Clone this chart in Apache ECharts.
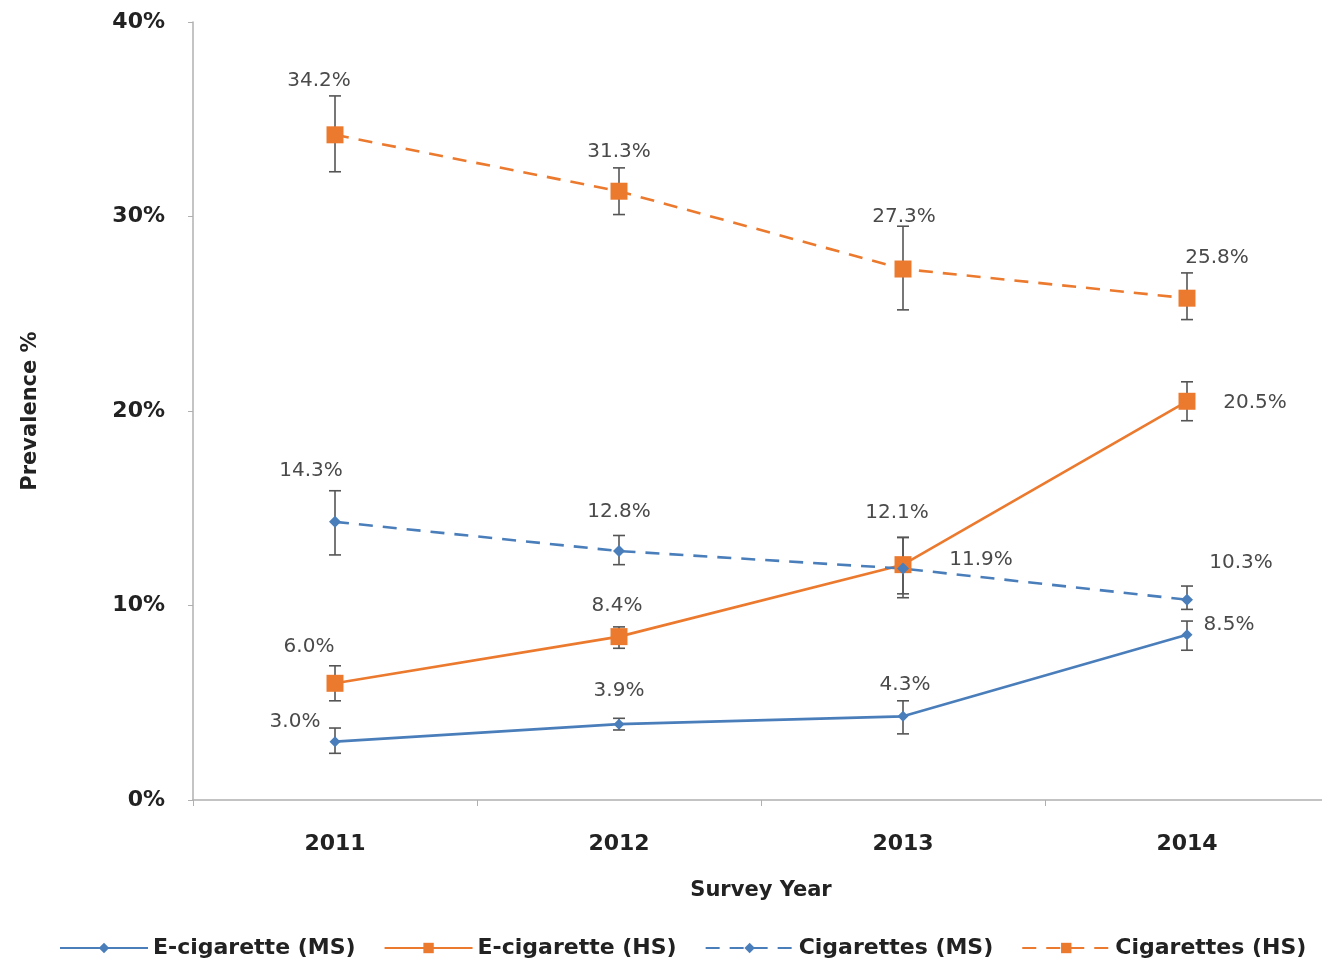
<!DOCTYPE html>
<html>
<head>
<meta charset="utf-8">
<title>Tobacco product use prevalence, 2011–2014</title>
<script src="https://cdn.jsdelivr.net/npm/echarts@6/dist/echarts.min.js"></script>
<style>
  html, body { margin: 0; padding: 0; background: #fff; overflow: hidden; }
  /* the plot area runs a little past the right edge of the page */
  #chart { width: 1330px; height: 972px; }
</style>
</head>
<body>
<div id="chart"></div>
<script>
// Survey years
const years = ['2011', '2012', '2013', '2014'];
const yTicks = [0, 10, 20, 30, 40];

// Prevalence estimates (%)
const ecigMS = [3.0, 3.9, 4.3, 8.5];
const ecigHS = [6.0, 8.4, 12.1, 20.5];
const cigMS = [14.3, 12.8, 11.9, 10.3];
const cigHS = [34.2, 31.3, 27.3, 25.8];

// 95% confidence limits (%)
const ecigMSLow = [2.4, 3.6, 3.4, 7.7];
const ecigMSHigh = [3.7, 4.2, 5.1, 9.2];
const ecigHSLow = [5.1, 7.8, 10.4, 19.5];
const ecigHSHigh = [6.9, 8.9, 13.5, 21.5];
const cigMSLow = [12.6, 12.1, 10.6, 9.8];
const cigMSHigh = [15.9, 13.6, 13.5, 11.0];
const cigHSLow = [32.3, 30.1, 25.2, 24.7];
const cigHSHigh = [36.2, 32.5, 29.5, 27.1];

const BLUE = '#4A7EBB';
const ORANGE = '#EC7A2E';
const FONT = '"DejaVu Sans", "Noto Sans", sans-serif';

// label placement (offset of the label centre from its point, px)
const labelShift = {
  ecigMS: [[-40, -20], [0, -33], [2, -32], [42, -10]],
  ecigHS: [[-26, -37], [-2, -31], [-6, -52], [68, 2]],
  cigMS: [[-24, -51], [0, -39], [78, -9], [54, -37]],
  cigHS: [[-16, -54], [0, -39], [1, -52], [30, -40]]
};

function pointData(values, shifts) {
  return values.map((v, i) => ({
    value: v,
    label: {
      show: true,
      position: 'inside',
      offset: shifts[i],
      formatter: v.toFixed(1) + '%',
      color: '#4a4a4a',
      fontFamily: FONT,
      fontSize: 20
    }
  }));
}

function lineSeries(name, values, shifts, color, symbol, size, dashed) {
  return {
    name: name,
    type: 'line',
    data: pointData(values, shifts),
    symbol: symbol,
    symbolSize: size,
    showAllSymbol: true,
    z: 3,
    itemStyle: { color: color },
    lineStyle: {
      color: color,
      width: 2.6,
      type: dashed ? [14, 10] : 'solid'
    },
    emphasis: { disabled: true },
    animation: false
  };
}

function errorSeries(low, high) {
  return {
    type: 'custom',
    z: 2,
    silent: true,
    animation: false,
    data: low.map((lo, i) => [i, lo, high[i]]),
    renderItem: function (params, api) {
      const top = api.coord([api.value(0), api.value(2)]);
      const bot = api.coord([api.value(0), api.value(1)]);
      const cap = 6;
      const style = { stroke: '#555', lineWidth: 1.6 };
      return {
        type: 'group',
        children: [
          { type: 'line', shape: { x1: top[0], y1: top[1], x2: bot[0], y2: bot[1] }, style: style },
          { type: 'line', shape: { x1: top[0] - cap, y1: top[1], x2: top[0] + cap, y2: top[1] }, style: style },
          { type: 'line', shape: { x1: bot[0] - cap, y1: bot[1], x2: bot[0] + cap, y2: bot[1] }, style: style }
        ]
      };
    }
  };
}

const chart = echarts.init(document.getElementById('chart'), null, { renderer: 'canvas' });

chart.setOption({
  backgroundColor: '#fff',
  animation: false,
  grid: { left: 193, top: 22, width: 1136, bottom: 172 },
  legend: {
    bottom: 8,
    left: 54,
    itemWidth: 88,
    itemHeight: 13,
    itemGap: 28,
    textStyle: { fontFamily: FONT, fontSize: 22, fontWeight: 'bold', color: '#222' },
    data: ['E-cigarette (MS)', 'E-cigarette (HS)', 'Cigarettes (MS)', 'Cigarettes (HS)']
  },
  xAxis: {
    type: 'category',
    data: years,
    boundaryGap: true,
    name: 'Survey Year',
    nameLocation: 'middle',
    nameGap: 80,
    nameTextStyle: { fontFamily: FONT, fontSize: 21, fontWeight: 'bold', color: '#222' },
    axisLine: { lineStyle: { color: '#b0b0b0', width: 1.5 } },
    axisTick: { show: true, length: 6, lineStyle: { color: '#b0b0b0' } },
    axisLabel: { margin: 33, fontFamily: FONT, fontSize: 22, fontWeight: 'bold', color: '#222' },
    splitLine: { show: false }
  },
  yAxis: {
    type: 'value',
    min: yTicks[0],
    max: yTicks[yTicks.length - 1],
    interval: 10,
    name: 'Prevalence %',
    nameLocation: 'middle',
    nameRotate: 90,
    nameGap: 152,
    nameTextStyle: { fontFamily: FONT, fontSize: 21, fontWeight: 'bold', color: '#222' },
    axisLine: { show: true, lineStyle: { color: '#b0b0b0', width: 1.5 } },
    axisTick: { show: true, length: 5, lineStyle: { color: '#b0b0b0' } },
    axisLabel: { margin: 28, fontFamily: FONT, fontSize: 22, fontWeight: 'bold', color: '#222', formatter: '{value}%' },
    splitLine: { show: false }
  },
  series: [
    errorSeries(ecigMSLow, ecigMSHigh),
    errorSeries(ecigHSLow, ecigHSHigh),
    errorSeries(cigMSLow, cigMSHigh),
    errorSeries(cigHSLow, cigHSHigh),
    lineSeries('E-cigarette (MS)', ecigMS, labelShift.ecigMS, BLUE, 'diamond', 11, false),
    lineSeries('E-cigarette (HS)', ecigHS, labelShift.ecigHS, ORANGE, 'rect', 17, false),
    lineSeries('Cigarettes (MS)', cigMS, labelShift.cigMS, BLUE, 'diamond', 12, true),
    lineSeries('Cigarettes (HS)', cigHS, labelShift.cigHS, ORANGE, 'rect', 17, true)
  ]
});
</script>
</body>
</html>
